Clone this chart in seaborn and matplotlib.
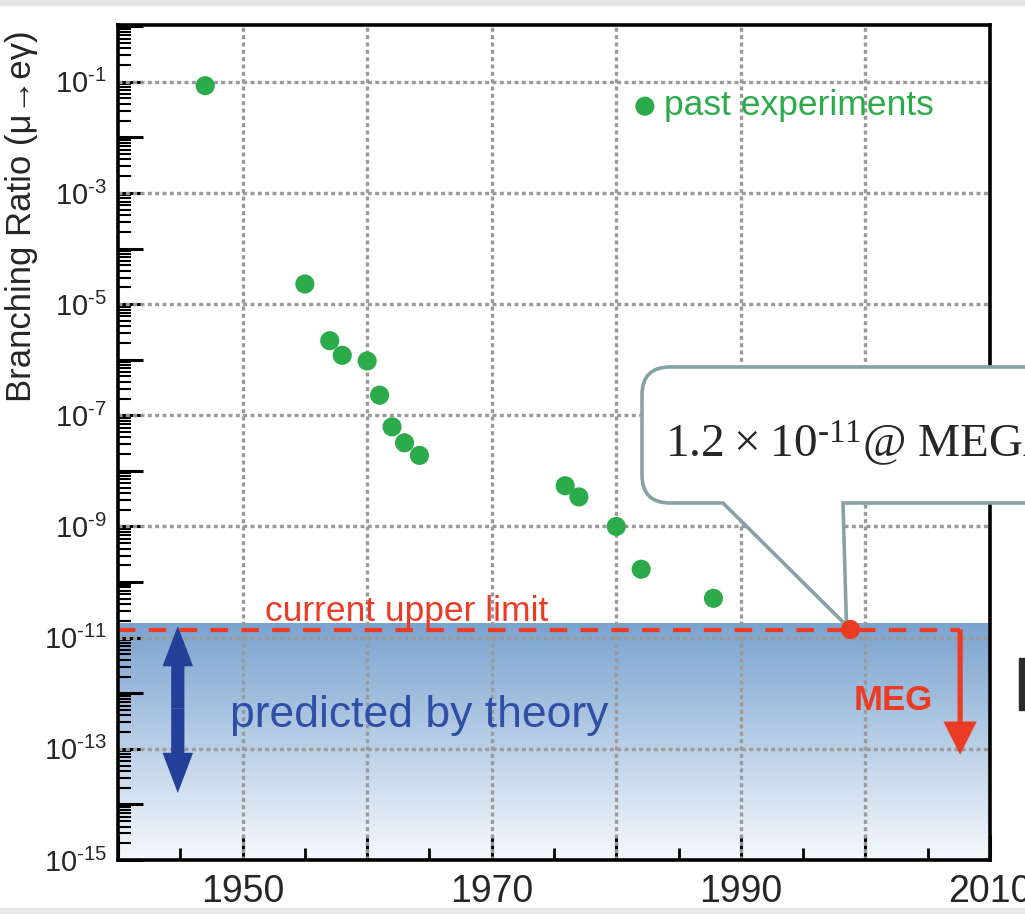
import numpy as np
import matplotlib
matplotlib.use("Agg")
import matplotlib.pyplot as plt
import seaborn as sns
from matplotlib.path import Path
from matplotlib.patches import PathPatch, Rectangle
from matplotlib.colors import LinearSegmentedColormap
from matplotlib.ticker import FixedLocator, LogLocator, FuncFormatter, NullFormatter

# --- data ---
years = [1947.0, 1955.0, 1957.0, 1958.0, 1960.0, 1961.0, 1962.0, 1963.0, 1964.2,
         1975.9, 1977.0, 1980.0, 1982.0, 1987.8]
upper_limits = [8.5e-2, 2.3e-5, 2.2e-6, 1.2e-6, 9.5e-7, 2.3e-7, 6.2e-8, 3.2e-8, 1.9e-8,
                5.4e-9, 3.4e-9, 1.0e-9, 1.7e-10, 5.1e-11]
meg_year = [1998.8]
meg_limit = [1.4e-11]
meg_goal = 7.8e-14
theory_top = 1.8e-11
theory_low = 1.6e-14

x_ticks = [1940, 1950, 1960, 1970, 1980, 1990, 2000, 2010]
x_labels = [1950, 1970, 1990, 2010]
y_labels = [1e-1, 1e-3, 1e-5, 1e-7, 1e-9, 1e-11, 1e-13, 1e-15]

GREEN = "#2bab4a"
RED = "#ec3b24"
BLUE_TXT = "#2f4ea6"
BLUE_ARR = "#233f97"
BOX_EC = "#87a2a5"
HY = "\u2010"  # short hyphen for the exponents
W, H = 1025, 914

sns.set_style("white")
plt.rcParams["font.family"] = ["Liberation Sans", "DejaVu Sans"]
plt.rcParams["mathtext.default"] = "regular"

fig = plt.figure(figsize=(W / 100, H / 100), dpi=100)
ax = fig.add_axes([118 / W, 54 / H, 872 / W, 835 / H])
ax.set_yscale("log")
ax.set_xlim(1940, 2010)
ax.set_ylim(1e-15, 1.05)

# shaded region "predicted by theory"
cmap = LinearSegmentedColormap.from_list("th", ["#f5f8fc", "#7aa3cf"])
yy = np.logspace(-15, np.log10(theory_top), 200)
ax.pcolormesh([1940, 2010], yy, np.linspace(0, 1, 199)[:, None], cmap=cmap,
              shading="flat", zorder=0)

# dotted grid
grid_kw = dict(color="#9a9a9a", lw=2.4, ls=(0, (1.2, 1.0)), zorder=1)
for v in y_labels[:-1]:
    ax.axhline(v, **grid_kw)
for v in x_ticks[1:-1]:
    ax.axvline(v, **grid_kw)

# past experiments
sns.scatterplot(x=years, y=upper_limits, color=GREEN, s=190, edgecolor="none",
                label="past experiments", ax=ax, zorder=4)

# current upper limit
ax.hlines(meg_limit, 1940, 2007.6, colors=RED, lw=3, ls=(0, (4.2, 3.2)), zorder=3)
ax.text(1951.8, 2.0e-11, "current upper limit", color=RED, fontsize=25.5,
        va="baseline", ha="left", zorder=5)
ax.annotate("", xy=(2007.6, meg_goal), xytext=(2007.6, meg_limit[0]),
            arrowprops=dict(arrowstyle="simple,head_length=2.4,head_width=2.4,tail_width=0.38",
                            mutation_scale=10, color=RED, lw=0, shrinkA=0, shrinkB=0),
            zorder=4)
ax.text(2002.2, 5.0e-13, "MEG", color=RED, fontsize=25, fontweight="bold",
        ha="center", va="baseline", zorder=5)

# theory arrow
mid = np.sqrt(theory_top * theory_low)
for tip in (theory_top * 0.9, theory_low):
    ax.annotate("", xy=(1944.8, tip), xytext=(1944.8, mid),
                arrowprops=dict(arrowstyle="simple,head_length=2.9,head_width=2.2,tail_width=0.95",
                                mutation_scale=10, color=BLUE_ARR, lw=0,
                                shrinkA=0, shrinkB=0), zorder=4)
ax.text(1949.0, 2.45e-13, "predicted by theory", color=BLUE_TXT, fontsize=32,
        va="baseline", ha="left", zorder=5)

# axes styling
for s in ax.spines.values():
    s.set_color("black")
    s.set_linewidth(2.6)
    s.set_zorder(5)
ax.xaxis.set_major_locator(FixedLocator(x_ticks))
ax.xaxis.set_minor_locator(FixedLocator([t + 5 for t in x_ticks[:-1]]))
ax.xaxis.set_major_formatter(FuncFormatter(lambda v, p: f"{int(v)}" if int(round(v)) in x_labels else ""))
ax.yaxis.set_major_locator(LogLocator(base=10, subs=(1.0,), numticks=30))
ax.yaxis.set_minor_locator(LogLocator(base=10, subs=np.arange(2, 10), numticks=30))
ax.yaxis.set_minor_formatter(NullFormatter())


def ylab(v, p):
    e = int(round(np.log10(v)))
    return f"10$^{{{HY}{-e}}}$" if e % 2 == 1 or e == -15 else ""


ax.yaxis.set_major_formatter(FuncFormatter(ylab))
ax.tick_params(which="both", direction="in", color="black", left=True, bottom=True,
               top=False, right=False)
ax.tick_params(axis="y", which="major", length=18, width=2.2, labelsize=21, pad=8)
ax.tick_params(axis="y", which="minor", length=9, width=1.5)
ax.tick_params(axis="x", which="major", length=18, width=2.2, labelsize=27, pad=10)
ax.tick_params(axis="x", which="minor", length=9, width=2.0)
ax.set_xlabel("")
ax.set_ylabel("")
fig.text(22 / W, 1 - 30 / H, "Branching Ratio (μ→eγ)", rotation=90, fontsize=25,
         ha="center", va="top")

leg = ax.legend(loc="center left", bbox_to_anchor=(0.588, 0.903), frameon=False,
                fontsize=25.5, labelcolor=GREEN, handlelength=0.8, handletextpad=0.15,
                borderpad=0, borderaxespad=0, markerscale=1.0)

# MEG point
ax.scatter(meg_year, meg_limit, s=190, color=RED, edgecolor="none", zorder=8)

# callout box with tail to the MEG point
fig.canvas.draw()
tx, ty = ax.transData.transform((meg_year[0], meg_limit[0]))
tip = (tx - 4, H - ty - 4)
r = 28
L, T, R, B = 642, 367, 1100, 503
pts = [(L + r, T), (R, T), (R, B), (843, B), tip, (723, B), (L + r, B),
       (L, B), (L, B - r), (L, T + r), (L, T), (L + r, T), (L + r, T)]
codes = [Path.MOVETO, Path.LINETO, Path.LINETO, Path.LINETO, Path.LINETO, Path.LINETO,
         Path.LINETO, Path.CURVE3, Path.CURVE3, Path.LINETO, Path.CURVE3, Path.CURVE3,
         Path.CLOSEPOLY]
pts = [(x / W, 1 - y / H) for x, y in pts]
ax.add_patch(PathPatch(Path(pts, codes), transform=fig.transFigure, facecolor="white",
                       edgecolor=BOX_EC, lw=2.6, clip_on=False, zorder=7))
ax.text(665 / W, 1 - 457 / H, f"1.2\u2009×\u200910$^{{{HY}11}}$@ MEGA",
        transform=fig.transFigure, family=["Liberation Serif", "DejaVu Serif"],
        fontsize=34, va="baseline", ha="left", clip_on=False, zorder=9)

# slide decorations
fig.patches.append(Rectangle((0, 1 - 5 / H), 1, 5 / H, transform=fig.transFigure,
                             color="#e4e4e4", zorder=0))
fig.patches.append(Rectangle((0, 0), 1, 6 / H, transform=fig.transFigure,
                             color="#e8e8e8", zorder=0))
fig.patches.append(Rectangle((1019 / W, 1 - 710 / H), 10 / W, 52 / H,
                             transform=fig.transFigure, color="#2b2b2b", zorder=0))

fig.savefig("out.png", dpi=100)
